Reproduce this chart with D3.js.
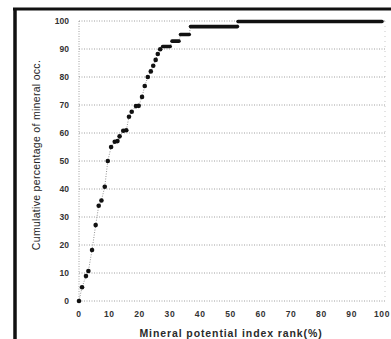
<!DOCTYPE html>
<html>
<head>
<meta charset="utf-8">
<script src="https://cdn.jsdelivr.net/npm/d3@7"></script>
<style>
  body { margin: 0; background: #fff; }
  svg { display: block; }
  text { font-family: "Liberation Sans", Arial, sans-serif; }
</style>
</head>
<body>
<svg width="391" height="339"></svg>
<script>
// rank (%) and cumulative percentage for the individual dots
const rankPts = [0, 1, 2.3, 3.1, 4.3, 5.5, 6.5, 7.4, 8.5, 9.5, 10.6, 11.8, 12.7, 13.4,
  14.6, 15.6, 16.5, 17.4, 18.8, 19.7, 20.8, 21.7, 22.7, 23.7, 24.5, 25.3, 26, 26.8];
const cumPts = [0, 4.9, 8.9, 10.7, 18.2, 27.1, 34, 35.9, 40.8, 50, 55, 56.9, 57.1, 58.8,
  60.8, 61, 65.8, 67.6, 69.6, 69.7, 72.9, 76.8, 80, 82, 84, 86.1, 88.2, 89.9];
// dense runs of dots that read as a thick line: start rank, end rank, cumulative %
const runStart = [27.6, 30.7, 33.5, 36.8, 52.5];
const runEnd = [30.1, 33, 36.4, 52.3, 100];
const runCum = [90.9, 92.8, 95.2, 98.0, 99.8];
const xTicks = [0, 10, 20, 30, 40, 50, 60, 70, 80, 90, 100];
const yTicks = [0, 10, 20, 30, 40, 50, 60, 70, 80, 90, 100];

const svg = d3.select("svg");

// scanned frame edges
svg.append("line").attr("x1", 13).attr("x2", 391).attr("y1", 9).attr("y2", 9)
  .attr("stroke", "#111").attr("stroke-width", 3);
svg.append("line").attr("x1", 15).attr("x2", 15).attr("y1", 8).attr("y2", 339)
  .attr("stroke", "#111").attr("stroke-width", 3.5);

const x = d3.scaleLinear().domain([0, 100]).range([79, 382]);
const y = d3.scaleLinear().domain([0, 100]).range([301, 21]);

// grid
svg.append("g")
  .selectAll("line")
  .data(yTicks)
  .join("line")
  .attr("x1", 79).attr("x2", 385)
  .attr("y1", d => y(d)).attr("y2", d => y(d))
  .attr("stroke", "#888").attr("stroke-width", 0.8)
  .attr("stroke-dasharray", "1,1.5");

svg.append("line").attr("x1", 79).attr("x2", 79).attr("y1", y(100)).attr("y2", y(0))
  .attr("stroke", "#888").attr("stroke-width", 0.8).attr("stroke-dasharray", "1,1.5");
svg.append("line").attr("x1", 385).attr("x2", 385).attr("y1", y(100)).attr("y2", y(0))
  .attr("stroke", "#bbb").attr("stroke-width", 0.8).attr("stroke-dasharray", "1,4");

// tick labels
svg.append("g")
  .selectAll("text")
  .data(yTicks)
  .join("text")
  .attr("x", 69).attr("y", d => y(d) + 3)
  .attr("text-anchor", "end")
  .attr("font-size", 8.5).attr("font-weight", "bold").attr("fill", "#333")
  .text(d => d);

svg.append("g")
  .selectAll("text")
  .data(xTicks)
  .join("text")
  .attr("x", d => x(d)).attr("y", 317)
  .attr("text-anchor", "middle")
  .attr("font-size", 8.5).attr("font-weight", "bold").attr("fill", "#333")
  .attr("letter-spacing", 0.6)
  .text(d => d);

// axis titles
svg.append("text")
  .attr("x", 231).attr("y", 337)
  .attr("text-anchor", "middle")
  .attr("font-size", 10.5).attr("font-weight", "bold").attr("fill", "#2a2a2a")
  .attr("letter-spacing", 0.9)
  .text("Mineral potential index rank(%)");

svg.append("text")
  .attr("transform", "translate(40,155) rotate(-90)")
  .attr("text-anchor", "middle")
  .attr("font-size", 10.5).attr("fill", "#222")
  .attr("letter-spacing", 0.3)
  .text("Cumulative percentage of mineral occ.");

// connecting dotted line
const pts = rankPts.map((r, i) => [r, cumPts[i]]);
runStart.forEach((s, i) => { pts.push([s, runCum[i]], [runEnd[i], runCum[i]]); });
svg.append("path")
  .datum(pts)
  .attr("fill", "none")
  .attr("stroke", "#777").attr("stroke-width", 0.8)
  .attr("stroke-dasharray", "1,1.5")
  .attr("d", d3.line().x(d => x(d[0])).y(d => y(d[1])));

// dense runs
svg.append("g")
  .selectAll("line")
  .data(runStart)
  .join("line")
  .attr("x1", d => x(d)).attr("x2", (d, i) => x(runEnd[i]))
  .attr("y1", (d, i) => y(runCum[i])).attr("y2", (d, i) => y(runCum[i]))
  .attr("stroke", "#111").attr("stroke-width", 3.6).attr("stroke-linecap", "round");

// dots
svg.append("g")
  .selectAll("circle")
  .data(rankPts)
  .join("circle")
  .attr("cx", d => x(d)).attr("cy", (d, i) => y(cumPts[i]))
  .attr("r", 2.3)
  .attr("fill", "#111");
</script>
</body>
</html>
